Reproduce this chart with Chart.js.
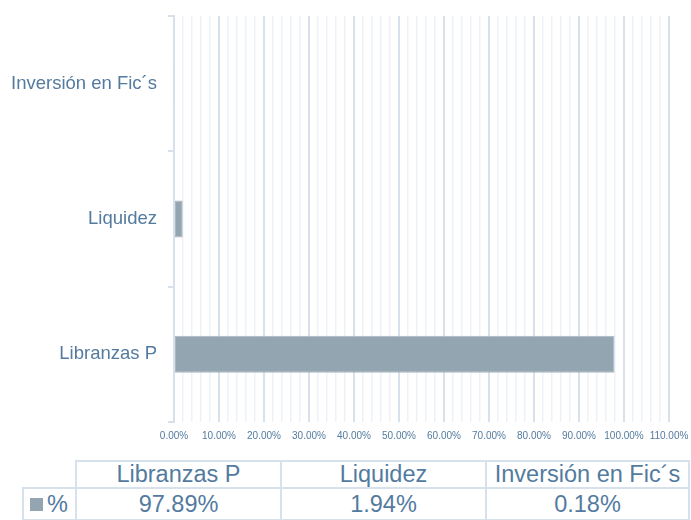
<!DOCTYPE html>
<html>
<head>
<meta charset="utf-8">
<script src="https://cdn.jsdelivr.net/npm/chart.js@4"></script>
<style>
  html, body { margin: 0; padding: 0; background: #fff; }
  #wrap { position: relative; width: 691px; height: 520px; overflow: hidden; }
  #chart { position: absolute; left: 0; top: 0; }
  #datatable {
    position: absolute; left: 22px; top: 460px;
    border-collapse: collapse; table-layout: fixed;
    font-family: 'Liberation Sans', Arial, sans-serif; color: #537b9f;
  }
  #datatable td {
    border: 2px solid #d6e1eb; padding: 0; text-align: center;
    font-size: 23.5px; white-space: nowrap; overflow: hidden;
  }
  #datatable tr.head td { height: 25px; line-height: 25px; }
  #datatable tr.vals td { height: 30px; line-height: 30px; }
  #datatable td.corner { border-top: none; border-left: none; }
  #datatable td.key { text-align: left; padding-left: 6px; }
  .swatch { display: inline-block; width: 13px; height: 13px; background: #93a5b1; margin-right: 4px; vertical-align: 1px; }
</style>
</head>
<body>
<div id="wrap">
  <canvas id="chart" width="691" height="442"></canvas>
  <table id="datatable"></table>
</div>
<script>
// Chart data
const categories = ['Libranzas P', 'Liquidez', 'Inversión en Fic´s'];
const seriesName = '%';
const percentValues = [97.89, 1.94, 0.18];
const xMin = 0;
const xMax = 110;

const textColor = '#537b9f';
const barColor = '#93a5b1';
const majorGrid = '#d6e1eb';
const minorGrid = '#edf2f7';
const fontFamily = "'Liberation Sans', Arial, sans-serif";

Chart.defaults.font.family = fontFamily;
Chart.defaults.color = textColor;

const ctx = document.getElementById('chart');
new Chart(ctx.getContext('2d'), {
    type: 'bar',
    data: {
        labels: categories,
        datasets: [{
            label: seriesName,
            data: percentValues,
            backgroundColor: barColor,
            borderColor: '#a9b8c2',
            borderWidth: 1,
            borderSkipped: false,
            categoryPercentage: 1,
            barPercentage: 0.273
        }]
    },
    options: {
        indexAxis: 'y',
        responsive: false,
        animation: false,
        layout: { padding: { top: 16, right: 22, left: 0, bottom: 0 } },
        plugins: {
            legend: { display: false },
            tooltip: { enabled: false }
        },
        scales: {
            x: {
                min: xMin,
                max: xMax,
                border: { display: false },
                grid: {
                    drawTicks: false,
                    color: function(c) {
                        return c.tick && c.tick.value % 10 === 0 ? majorGrid : minorGrid;
                    },
                    lineWidth: function(c) {
                        return c.tick && c.tick.value % 10 === 0 ? 2 : 1.5;
                    }
                },
                ticks: {
                    stepSize: 2,
                    autoSkip: false,
                    maxRotation: 0,
                    padding: 8,
                    color: textColor,
                    font: { size: 10 },
                    callback: function(value) {
                        return value % 10 === 0 ? value.toFixed(2) + '%' : '';
                    }
                },
                afterFit: function(scale) {
                    scale.height = 20;
                    scale.paddingLeft = 0;
                    scale.paddingRight = 0;
                }
            },
            y: {
                reverse: true,
                border: { display: true, color: majorGrid, width: 2 },
                grid: {
                    offset: true,
                    drawOnChartArea: false,
                    tickLength: 6,
                    color: majorGrid,
                    lineWidth: 2
                },
                ticks: {
                    padding: 11,
                    color: textColor,
                    font: { size: 18.5 }
                },
                afterFit: function(scale) {
                    scale.width = 174;
                    scale.paddingTop = 0;
                    scale.paddingBottom = 0;
                }
            }
        }
    }
});

// Data table under the chart
const table = document.getElementById('datatable');
const colWidths = [53, 205, 205, 203];
const colgroup = document.createElement('colgroup');
colWidths.forEach(function(w) {
    const col = document.createElement('col');
    col.style.width = w + 'px';
    colgroup.appendChild(col);
});
table.appendChild(colgroup);

const headRow = document.createElement('tr');
headRow.className = 'head';
const corner = document.createElement('td');
corner.className = 'corner';
headRow.appendChild(corner);
categories.forEach(function(name) {
    const td = document.createElement('td');
    td.textContent = name;
    headRow.appendChild(td);
});
table.appendChild(headRow);

const valRow = document.createElement('tr');
valRow.className = 'vals';
const key = document.createElement('td');
key.className = 'key';
key.innerHTML = '<span class="swatch"></span>' + seriesName;
valRow.appendChild(key);
percentValues.forEach(function(v) {
    const td = document.createElement('td');
    td.textContent = v.toFixed(2) + '%';
    valRow.appendChild(td);
});
table.appendChild(valRow);
</script>
</body>
</html>
